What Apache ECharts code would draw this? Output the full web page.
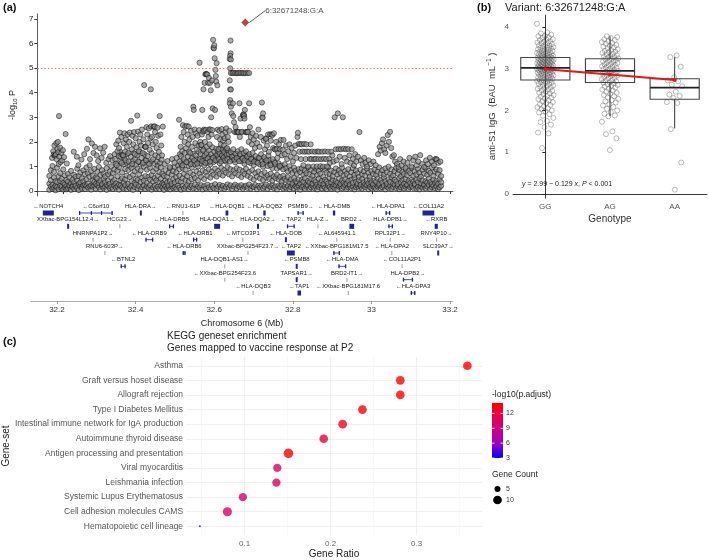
<!DOCTYPE html>
<html>
<head>
<meta charset="utf-8">
<script src="https://cdn.jsdelivr.net/npm/echarts@6/dist/echarts.min.js"></script>
<style>
html, body { margin: 0; padding: 0; background: #fff; }
#main { width: 709px; height: 560px; }
</style>
</head>
<body>
<div id="main"></div>
<script>
// ---- panel (a): regional association, positions in kb above 32 Mb ----
// floor of the plot: [kb, -log10P, -log10P, -log10P]
var snpFloor = [
 [165,.05,.30,.62],[169,.18,.44,.85],[173,.09,.25,1.02],[177,.14,.55,.78],[181,.03,.21,.40],[185,.16,.36,.95],
 [189,.08,.60,1.10],[193,.22,.41,.73],[197,.11,.19,.50],[201,.06,.33,.88],[205,.15,.27,.64],[209,.20,.45,.07],
 [213,.12,.38,.70],[217,.18,.24,.55],[221,.05,.31,.82],[225,.21,.17,.46],[229,.09,.36,.66],[233,.19,.22,.58],
 [237,.13,.43,.91],[241,.04,.29,.61],[245,.20,.35,.76],[249,.17,.52,.10],[253,.23,.40,.84],[257,.08,.26,.69],
 [261,.21,.47,.96],[265,.14,.31,.72],[269,.19,.58,1.05],[273,.06,.22,.81],[277,.18,.44,.63],[281,.22,.37,.90],
 [285,.10,.29,.55],[289,.24,.51,.78],[293,.16,.33,.98],[297,.07,.41,.66],[301,.20,.28,.85],[305,.13,.49,.71],
 [309,.18,.36,.60],[313,.05,.25,.93],[317,.21,.42,.68],[321,.12,.30,.79],[325,.17,.55,1.01],[329,.09,.38,.74],
 [333,.23,.46,.88],[337,.14,.31,1.12],[341,.19,.60,.83],[345,.06,.27,.97],[349,.22,.44,1.20],[353,.15,.52,.76],
 [357,.10,.35,1.08],[361,.24,.48,.90],[365,.08,.63,1.15],[369,.18,.29,.86],[373,.12,.57,1.03],[377,.21,.40,.94],
 [381,.05,.66,1.22],[385,.17,.33,.81],[389,.26,.50,1.06],[393,.11,.45,.92],[397,.20,.69,1.18],[401,.07,.37,.84],
 [405,.16,.54,1.09],[409,.23,.42,.99],[413,.09,.61,1.27],[417,.19,.34,.87],[421,.13,.58,1.14],[425,.24,.47,.95],
 [429,.06,.65,1.21],[433,.15,.39,.80],[437,.21,.53,1.11],[441,.10,.44,.91],[445,.18,.62,1.03],[449,.08,.36,.77],
 [453,.22,.50,.97],[457,.14,.31,.71],[461,.05,.27,.62],[465,.19,.43,.85],[469,.11,.34,.58],[473,.16,.22,.74],
 [477,.07,.40,.93],[481,.20,.29,.67],[485,.12,.48,.81],[489,.17,.35,.99],[493,.09,.56,.76],[497,.23,.41,1.04],
 [501,.14,.63,.89],[505,.06,.38,1.12],[509,.21,.52,.95],[513,.10,.70,1.20],[517,.18,.45,.87],[521,.25,.61,1.16],
 [525,.08,.39,1.02],[529,.16,.74,1.25],[533,.22,.48,.96],[537,.12,.66,1.19],[541,.27,.53,1.08],[545,.09,.80,1.31],
 [549,.19,.44,1.00],[553,.14,.71,1.22],[557,.24,.58,1.12],[561,.07,.83,1.36],[565,.20,.49,1.05],[569,.11,.77,1.28],
 [573,.26,.62,1.15],[577,.15,.88,1.40],[581,.08,.55,1.09],[585,.22,.79,1.33],[589,.13,.67,1.18],[593,.28,.91,1.45],
 [597,.10,.59,1.24],[601,.18,.82,1.38],[605,.25,.70,1.13],[609,.12,.94,1.50],[613,.21,.63,1.29],[617,.09,.86,1.42],
 [621,.17,.75,1.20],[625,.27,.97,1.55],[629,.14,.68,1.34],[633,.23,.89,1.47],[637,.08,.60,1.26],[641,.19,.84,1.39],
 [645,.26,.72,1.17],[649,.11,.93,1.52],[653,.20,.65,1.30],[657,.15,.87,1.44],[661,.24,.57,1.21],[665,.09,.81,1.36],
 [669,.18,.69,1.11],[673,.22,.90,1.48],[677,.13,.62,1.25],[681,.27,.78,1.40],[685,.10,.54,1.14],[689,.19,.85,1.32],
 [693,.16,.47,1.06],[697,.25,.73,1.27],[701,.08,.58,1.19],[705,.21,.80,1.35],[709,.14,.51,1.08],[713,.23,.69,1.23],
 [717,.11,.45,.99],[721,.18,.76,1.31],[725,.26,.55,1.16],[729,.09,.64,1.02],[733,.20,.49,1.26],[737,.15,.71,1.10],
 [741,.24,.42,.94],[745,.12,.60,1.20],[749,.19,.53,1.07],[753,.07,.66,.91],[757,.22,.47,1.13],[761,.16,.58,.97],
 [765,.25,.39,1.04],[769,.10,.62,.88],[773,.18,.50,1.09],[777,.13,.43,.93],[781,.21,.57,.80],[785,.08,.36,1.01],
 [789,.17,.48,.86],[793,.24,.31,.74],[797,.11,.53,.95],[801,.19,.40,.83],[805,.14,.34,.70],[809,.22,.47,.89],
 [813,.06,.29,.77],[817,.16,.45,.92],[821,.20,.38,.66],[825,.10,.52,.84],[829,.18,.27,.73],[833,.23,.41,.96],
 [837,.09,.35,.68],[841,.15,.49,.87],[845,.21,.30,.62],[849,.12,.44,.79],[853,.19,.37,.91],[857,.07,.26,.65],
 [861,.17,.50,.82],[865,.24,.33,.71],[869,.11,.42,.94],[873,.20,.28,.58],[877,.14,.46,.86],[881,.08,.39,.75],
 [885,.22,.31,.97],[889,.16,.54,.69],[893,.10,.36,.83],[897,.19,.45,.61],[901,.13,.27,.78],[905,.23,.40,.92],
 [909,.06,.33,.67],[913,.18,.51,.85],[917,.21,.29,.73],[921,.11,.43,.95],[925,.17,.35,.64],[929,.24,.48,.81],
 [933,.09,.31,.70],[937,.15,.41,.89],[941,.20,.26,.60],[945,.12,.46,.77],[949,.19,.34,.93],[953,.07,.53,.66],
 [957,.16,.38,.84],[961,.22,.30,.72],[965,.13,.44,.58],[969,.18,.25,.87],[973,.10,.49,.68],[977,.21,.36,.80],
 [981,.15,.28,.63],[985,.24,.42,.91],[989,.08,.32,.74],[993,.17,.47,.59],[997,.12,.35,.82],[1001,.20,.27,.69],
 [1005,.14,.43,.88],[1009,.09,.38,.65],[1013,.19,.51,.79],[1017,.23,.30,.96],[1021,.11,.45,.72],[1025,.16,.34,.85],
 [1029,.21,.55,.67],[1033,.07,.40,.92],[1037,.18,.29,.76],[1041,.13,.48,.99],[1045,.22,.37,.70],[1049,.10,.56,.88],
 [1053,.17,.31,.63],[1057,.25,.46,.81],[1061,.12,.39,.94],[1065,.19,.28,.71],[1069,.08,.52,.86],[1073,.15,.35,.60],
 [1077,.21,.44,.78],[1081,.11,.30,.69],[1085,.18,.49,.91],[1089,.23,.26,.64],[1093,.09,.41,.83],[1097,.16,.33,.73],
 [1101,.20,.47,.95],[1105,.13,.38,.62],[1109,.24,.29,.80],[1113,.10,.45,.68],[1117,.17,.36,.90],[1121,.07,.52,.75],
 [1125,.19,.31,.59],[1129,.14,.43,.86],[1133,.22,.27,.71],[1137,.11,.40,.94],[1141,.18,.34,.66],[1145,.25,.50,.82],
 [1149,.09,.37,.74],[1153,.16,.28,.97],[1157,.21,.46,.63],[1161,.12,.33,.79],[1165,.19,.42,.88],[1169,.08,.30,.70],
 [1173,.15,.48,.85],[1177,.22,.36,.61]
];
// everything above the floor: [kb, -log10P]
var snpUpper = [
 [172,1.35],[175,1.62],[176,1.48],[178,1.85],[179,1.45],[180,1.44],[181,1.46],[182,1.5],[183,1.95],[184,1.3],
 [186,1.72],[187,2.0],[188,1.58],[190,3.05],[191,1.4],[193,1.76],[194,1.18],[196,1.55],[198,1.25],[200,1.66],
 [203,1.38],[207,2.32],[210,1.12],
 [228,1.6],[236,1.4],[240,1.05],[248,1.28],[255,1.5],[262,1.72],[266,2.1],[270,1.3],[275,1.94],[279,1.55],
 [283,1.8],[287,1.45],[291,1.22],[296,1.74],[300,1.35],[304,1.56],[308,1.8],[312,1.15],[318,1.3],[322,1.42],
 [328,1.25],[334,1.5],
 [335,1.3],[339,1.05],[344,1.42],[348,1.6],[352,1.15],[358,1.35],[362,1.25],[366,1.5],[370,1.2],[375,1.4],
 [379,1.1],[383,1.55],[387,1.3],[391,1.45],[395,1.2],[399,1.6],[403,1.35],[407,1.15],[411,1.5],[415,1.25],
 [419,1.42],[423,1.1],[429,1.55],[433,1.3],[439,1.45],[443,1.2],[447,1.38],[451,1.15],[455,1.28],
 [338,1.9],[341,1.62],[343,2.05],[345,1.75],[347,2.38],[349,1.4],[351,2.2],[353,1.48],[355,1.47],[356,1.46],
 [357,1.95],[359,2.35],[361,1.6],[363,2.1],[365,1.8],[367,2.3],[369,1.55],[371,2.0],[373,2.38],[376,2.86],
 [378,1.7],[380,2.25],[382,1.9],[384,2.4],[386,1.5],[388,2.15],[390,1.78],[392,3.07],[394,2.42],[396,1.62],
 [398,2.0],[400,2.3],[402,1.85],[404,2.5],[406,1.55],[408,2.1],[410,4.31],[412,1.8],[413,1.81],[414,1.79],
 [416,2.6],[418,2.3],[420,1.95],[422,2.55],[424,1.68],[426,2.14],[427,4.14],[428,2.63],[430,2.2],[432,1.9],
 [434,2.62],[436,2.61],[437,2.63],[438,2.4],[440,2.0],[442,1.75],[444,2.58],[446,2.25],[448,1.6],[450,3.05],
 [452,2.3],[454,1.85],[456,1.45],[458,2.62],
 [463,1.1],[470,1.22],[476,.98],[482,1.3],[488,1.15],[494,1.35],[500,2.9],[502,1.5],[504,1.8],[506,2.2],[508,1.62],
 [502,1.2],[505,1.42],[509,1.05],[512,1.3],[515,1.55],[519,1.18],[523,1.4],[526,1.6],[530,1.1],[534,1.35],
 [536,1.52],[539,1.25],[543,1.45],[547,1.12],[551,1.6],[554,1.3],[556,1.5],[560,1.22],[563,1.7],[566,1.45],
 [568,1.15],[571,1.55],[574,1.32],[577,1.65],[580,1.2],[583,1.5],[586,1.78],[588,1.35],[591,1.6],[594,1.25],
 [596,1.72],[599,1.48],[601,1.62],[603,1.3],[605,1.55],[607,1.75],[609,1.2],[611,1.45],[613,1.68],[615,1.35],
 [617,1.58],[619,1.25],[621,1.72],[623,1.48],[625,1.3],[627,1.65],[629,1.5],[631,1.2],[634,1.58],[637,1.4],
 [640,1.7],[643,1.28],[646,1.52],[649,1.35],[652,1.62],[655,1.22],[658,1.5],[661,1.7],[664,1.32],[667,1.55],
 [670,1.25],[673,1.62],[676,1.4],[679,1.18],[682,1.5],[686,1.3],[690,1.55],[694,1.2],[698,1.42],[703,1.15],
 [707,1.35],[712,1.5],[716,1.1],[720,1.38],[726,1.25],[731,1.45],[736,1.05],[742,1.3],[748,1.15],[754,1.35],[760,1.02],
 [510,2.68],[512,2.4],[514,2.0],[516,2.62],[518,1.75],[520,2.65],[522,2.3],[524,1.9],[525,2.62],[527,2.1],
 [529,1.55],[531,2.45],[533,1.8],[535,2.2],[537,3.43],[538,3.3],[540,2.5],[542,1.95],[544,2.35],[546,1.7],
 [548,2.25],[550,1.85],[552,2.48],[553,5.22],[555,2.0],[557,1.87],[558,1.88],[559,2.3],
 [560,3.3],[561,2.42],[562,1.65],[563,4.14],[564,2.5],[565,2.45],[566,4.4],[567,2.0],[568,4.75],[569,2.49],
 [570,4.76],[571,4.75],[572,1.8],[573,4.74],[574,2.4],[575,4.4],[576,2.2],[577,4.6],[578,2.51],[579,1.9],
 [580,4.4],[581,2.5],[582,4.1],[583,3.0],[584,2.3],[585,4.5],[586,2.48],[587,3.36],[588,6.15],[589,5.83],
 [590,5.8],[591,5.93],[592,5.4],[593,3.3],[594,4.93],[595,4.68],[596,4.45],[597,5.2],[598,2.2],[599,4.3],
 [600,2.5],[602,1.7],[604,2.45],[606,2.1],[608,1.9],[610,2.52],[612,2.3],[614,2.05],[616,1.85],[618,2.15],
 [620,2.4],[622,2.55],[624,1.75],[626,2.2],[628,2.0],[630,2.45],
 [633,6.12],[633,5.6],[632,5.5],[631,5.37],[634,5.35],[632,4.99],[631,4.5],[632,4.14],[634,4.13],[632,3.7],
 [631,3.57],[634,3.43],[636,3.16],[634,4.8],[638,4.8],[641,4.81],[645,4.8],[649,4.79],[652,4.8],[656,4.81],
 [660,4.8],[664,4.8],[668,4.79],[672,4.8],[677,4.8],[681,4.8],
 [639,3.57],[640,3.05],[642,2.8],[644,2.4],[646,2.6],[648,2.39],[650,2.41],[652,2.4],[654,2.4],[656,3.57],
 [657,2.2],[659,2.95],[661,2.4],[663,2.41],[665,3.1],[666,3.08],[667,3.12],[668,3.05],[669,2.95],[670,3.3],
 [672,2.4],[674,2.39],[676,2.41],[678,2.4],[680,2.0],[681,3.57],[683,2.6],[685,2.2],[688,1.9],[690,2.35],
 [693,2.1],[696,1.75],[699,2.25],[702,1.95],[705,2.5],[708,1.8],[711,2.2],[714,3.6],[715,3.0],[716,2.98],
 [717,3.16],[719,2.05],[722,1.7],
 [724,2.14],[725,2.12],[727,1.85],[730,2.3],[732,1.6],[735,2.31],[737,2.05],[739,2.3],[741,2.28],[743,1.75],
 [745,2.35],[747,1.7],[749,1.69],[751,2.0],[753,1.71],[756,1.55],[758,1.9],[761,1.7],[763,2.08],[766,1.45],
 [768,1.68],[770,2.08],[773,1.5],[776,1.85],[779,1.3],[782,1.62],[785,1.9],[788,1.4],[791,1.75],[794,1.2],[797,1.55],
 [800,1.85],[803,1.35],[806,2.2],[807,2.37],[809,1.92],[811,1.6],[813,1.91],[815,1.3],[817,1.9],[819,1.61],
 [821,1.05],[823,1.92],[825,1.6],[827,1.3],[829,1.9],[831,1.61],[834,1.0],[836,1.6],[838,1.31],[840,1.9],
 [842,1.3],[844,1.61],[847,1.0],[849,1.3],[851,1.6],[853,1.31],[856,1.0],[858,1.61],[860,1.3],[862,1.6],
 [865,1.01],[867,1.3],[870,1.6],[872,1.0],[874,1.31],[877,1.61],[880,1.3],[882,1.0],[885,1.6],[888,1.31],
 [890,1.15],[893,1.6],[896,1.45],[899,1.2],
 [902,3.0],[905,1.7],[907,1.25],[910,3.16],[912,1.71],[915,1.4],[918,1.7],[920,1.1],[923,3.0],[925,1.72],
 [928,1.35],[931,1.7],[934,1.2],[937,1.71],[940,1.45],[943,1.15],[946,1.7],[949,1.3],[952,1.05],[955,1.5],
 [958,1.2],[962,1.4],[966,2.4],[970,1.25],[974,1.1],[978,1.35],[982,1.15],[986,1.0],[990,1.25],[995,1.1],
 [1002,1.2],[1008,1.05],[1014,1.5],[1018,1.8],[1021,1.65],[1024,1.95],[1027,2.1],[1030,1.7],[1033,1.55],
 [1036,1.85],[1039,2.28],[1042,2.0],[1045,2.41],[1048,1.75],[1051,1.4],[1055,1.46],[1058,1.2],
 [1063,1.1],[1067,.98],[1071,1.3],[1075,1.05],[1080,1.2],[1085,.95],[1090,1.15],[1095,1.35],[1100,1.0],
 [1105,1.25],[1110,1.4],[1114,1.05],[1118,1.2],[1123,1.46],[1128,1.1],[1133,.98],[1138,1.25],[1143,1.1],
 [1148,1.35],[1153,1.2],[1158,1.05],[1162,1.3],[1164,1.3],[1166,1.28],[1170,1.15],[1175,1.2]
];
var leadSnp = [671, 6.85];
var leadName = '6:32671248:G:A';
var chrTicks = [32.2, 32.4, 32.6, 32.8, 33, 33.2];
var logpTicks = [0, 1, 2, 3, 4, 5, 6, 7];
var threshold = 5;

// genes: name, start Mb, end Mb, row, strand, kind (c coding block, i exon-intron, n small/non-coding)
var genes = [
 ['NOTCH4',32.164,32.192,1,'-','c'],['C6orf10',32.256,32.342,1,'-','i'],['HLA-DRA',32.411,32.416,1,'+','c'],
 ['RNU1-61P',32.520,32.521,1,'-','n'],['HLA-DQB1',32.629,32.636,1,'-','c'],['HLA-DQB2',32.725,32.731,1,'-','c'],
 ['PSMB9',32.812,32.828,1,'+','i'],['HLA-DMB',32.902,32.908,1,'-','c'],['HLA-DPA1',33.036,33.048,1,'-','i'],
 ['COL11A2',33.130,33.160,1,'-','c'],
 ['XXbac-BPG154L12.4',32.226,32.231,2,'+','c'],['HCG23',32.359,32.361,2,'+','n'],['HLA-DRB5',32.485,32.498,2,'-','i'],
 ['HLA-DQA1',32.600,32.615,2,'+','c'],['HLA-DQA2',32.709,32.714,2,'+','c'],['TAP2',32.785,32.805,2,'-','i'],
 ['HLA-Z',32.863,32.865,2,'+','n'],['BRD2',32.944,32.956,2,'+','c'],['HLA-DPB1',33.043,33.055,2,'+','i'],
 ['RXRB',33.161,33.169,2,'-','c'],
 ['HNRNPA1P2',32.291,32.293,3,'+','n'],['HLA-DRB9',32.425,32.445,3,'-','i'],['HLA-DRB1',32.546,32.557,3,'-','i'],
 ['MTCO3P1',32.672,32.674,3,'-','n'],['HLA-DOB',32.780,32.785,3,'-','c'],['AL645941.1',32.911,32.913,3,'-','n'],
 ['RPL32P1',33.047,33.049,3,'+','n'],['RNY4P10',33.165,33.167,3,'+','n'],
 ['RNU6-603P',32.321,32.323,4,'+','n'],['HLA-DRB6',32.520,32.527,4,'-','i'],['XXbac-BPG254F23.7',32.685,32.687,4,'+','n'],
 ['TAP2',32.785,32.805,4,'-','c'],['XXbac-BPG181M17.5',32.903,32.920,4,'-','i'],['HLA-DPA2',33.051,33.053,4,'-','n'],
 ['SLC39A7',33.168,33.172,4,'+','c'],
 ['BTNL2',32.362,32.375,5,'-','i'],['HLA-DQB1-AS1',32.626,32.628,5,'+','n'],['PSMB8',32.808,32.812,5,'-','c'],
 ['HLA-DMA',32.916,32.936,5,'-','i'],['COL11A2P1',33.077,33.079,5,'-','n'],
 ['XXbac-BPG254F23.6',32.626,32.628,6,'-','n'],['TAPSAR1',32.809,32.811,6,'+','c'],['BRD2-IT1',32.937,32.939,6,'+','n'],
 ['HLA-DPB2',33.080,33.106,6,'+','i'],
 ['HLA-DQB3',32.698,32.700,7,'-','n'],['TAP1',32.812,32.821,7,'-','c'],['XXbac-BPG181M17.6',32.940,32.942,7,'-','n'],
 ['HLA-DPA3',33.100,33.112,7,'-','i']
];

// ---- panel (b): anti-S1 IgG by genotype ----
var genotypes = ['GG', 'AG', 'AA'];
// min whisker, Q1, median, Q3, max whisker
var boxStats = [
 [1.97, 2.73, 3.02, 3.27, 3.87],
 [1.86, 2.67, 2.95, 3.24, 3.78],
 [1.57, 2.27, 2.55, 2.76, 3.28]
];
var ggValues = [4.08,3.87,3.85,3.82,3.79,3.78,3.75,3.74,3.71,3.70,3.69,3.66,3.65,3.63,3.62,3.61,3.59,3.58,3.56,3.55,
 3.54,3.52,3.51,3.50,3.49,3.47,3.47,3.46,3.44,3.43,3.42,3.41,3.40,3.39,3.38,3.37,3.36,3.35,3.35,3.34,
 3.33,3.32,3.31,3.30,3.30,3.29,3.28,3.27,3.27,3.26,3.26,3.25,3.24,3.23,3.23,3.22,3.21,3.21,3.20,3.19,
 3.19,3.18,3.17,3.17,3.16,3.15,3.15,3.14,3.13,3.13,3.12,3.11,3.11,3.10,3.09,3.09,3.08,3.07,3.07,3.06,
 3.05,3.05,3.04,3.04,3.03,3.02,3.02,3.01,3.01,3.00,2.99,2.99,2.98,2.97,2.97,2.96,2.95,2.95,2.94,2.93,
 2.92,2.92,2.91,2.90,2.89,2.88,2.88,2.87,2.86,2.85,2.84,2.83,2.82,2.81,2.80,2.79,2.78,2.77,2.76,2.75,
 2.74,2.73,2.72,2.71,2.70,2.68,2.67,2.66,2.64,2.63,2.61,2.60,2.58,2.57,2.55,2.53,2.52,2.50,2.48,2.47,
 2.45,2.43,2.41,2.39,2.37,2.35,2.33,2.31,2.29,2.27,2.24,2.22,2.20,2.18,2.15,2.13,2.10,2.08,2.05,2.03,
 2.00,1.98,1.95,1.91,1.87,1.82,1.75,1.72,1.66,1.60,1.47,1.45,1.10];
var agValues = [3.78,3.76,3.74,3.71,3.69,3.66,3.64,3.62,3.60,3.57,3.55,3.53,3.51,3.49,3.47,3.45,3.43,3.41,3.40,3.38,
 3.36,3.35,3.33,3.31,3.30,3.28,3.27,3.25,3.24,3.23,3.21,3.20,3.18,3.17,3.15,3.14,3.12,3.11,3.09,3.08,
 3.06,3.05,3.03,3.02,3.00,2.99,2.97,2.96,2.95,2.94,2.92,2.91,2.89,2.88,2.86,2.85,2.83,2.82,2.80,2.78,
 2.77,2.75,2.73,2.72,2.70,2.68,2.67,2.65,2.63,2.61,2.59,2.57,2.55,2.52,2.50,2.48,2.45,2.42,2.40,2.37,
 2.34,2.31,2.28,2.25,2.22,2.19,2.15,2.12,2.08,2.04,2.00,1.96,1.92,1.88,1.86,1.73,1.50,1.43,1.33,1.05];
var aaValues = [3.32,3.28,3.05,2.80,2.72,2.70,2.62,2.58,2.45,2.38,2.35,2.30,2.20,2.18,1.55,0.75,0.10];
var fitValues = [2.99, 2.86, 2.73];
var yTicksB = [0, 1, 2, 3, 4];

// ---- panel (c): KEGG enrichment ----
var genesets = ['Asthma', 'Graft versus hoset disease', 'Allograft rejection', 'Type I Diabetes Mellitus',
 'Intestinal immune network for IgA production', 'Autoimmune thyroid disease', 'Antigen processing and presentation',
 'Viral myocarditis', 'Leishmania infection', 'Systemic Lupus Erythematosus', 'Cell adhesion molecules CAMS',
 'Hematopoietic cell lineage'];
var geneRatio = [0.359, 0.281, 0.281, 0.237, 0.214, 0.192, 0.151, 0.138, 0.137, 0.098, 0.080, 0.048];
var geneCount = [10, 10, 10, 10, 10, 10, 12, 9, 9, 9, 11, 1];
var negLogPadj = [14.1, 13.9, 13.9, 13.7, 12.8, 11.8, 13.9, 10.6, 10.4, 9.6, 10.2, 3.0];
var ratioTicks = [0.1, 0.2, 0.3];
var ratioMinor = [0.05, 0.15, 0.25, 0.35];
var padjTicks = [3, 6, 9, 12];
var countTicks = [5, 10];

var FONT = '"Liberation Sans", Arial, sans-serif';
var gradStops = ['#0000ff', '#9a00c2', '#ca0088', '#e8004f', '#ff0000'];
var padjMin = 3, padjMax = 14.1;

function countSize(n) { return Math.sqrt(8 * n - 4); }
function kbToMb(kb) { return 32 + kb / 1000; }

var snpPoints = [];
snpFloor.forEach(function (r) {
  for (var k = 1; k < r.length; k++) snpPoints.push([kbToMb(r[0]), r[k]]);
});
snpUpper.forEach(function (r) { snpPoints.push([kbToMb(r[0]), r[1]]); });

// jitter spread is layout only (deterministic low-discrepancy offsets)
function jittered(vals, cat) {
  return vals.map(function (v, i) {
    var f = (i * 0.6180339887 + cat * 0.31) % 1;
    return [cat + (f - 0.5) * 0.26, v];
  });
}
var jitterPoints = jittered(ggValues, 0).concat(jittered(agValues, 1), jittered(aaValues, 2));

function drawGene(params, api) {
  var g = genes[params.dataIndex];
  var a = api.coord([g[1], g[3]]);
  var b = api.coord([g[2], g[3]]);
  var cx = (a[0] + b[0]) / 2, y = a[1];
  var label = g[4] === '-' ? '\u2190' + g[0] : g[0] + '\u2192';
  var kids = [{
    type: 'text',
    style: { text: label, x: cx, y: y - 6.5, align: 'center', verticalAlign: 'middle',
      fontSize: 5.9, fontFamily: FONT, fill: '#222' }
  }];
  var blue = '#23238f';
  if (g[5] === 'n') {
    kids.push({ type: 'rect', shape: { x: cx - 0.5, y: y - 2, width: 1, height: 4 }, style: { fill: '#9a9a9a' } });
  } else if (g[5] === 'i') {
    var w = Math.max(b[0] - a[0], 3);
    var x0 = cx - w / 2;
    kids.push({ type: 'rect', shape: { x: x0, y: y - 0.5, width: w, height: 1 }, style: { fill: '#4a4aa8' } });
    kids.push({ type: 'rect', shape: { x: x0, y: y - 2, width: 1.3, height: 4 }, style: { fill: blue } });
    kids.push({ type: 'rect', shape: { x: x0 + w - 1.3, y: y - 2, width: 1.3, height: 4 }, style: { fill: blue } });
    if (w > 12) {
      kids.push({ type: 'rect', shape: { x: x0 + w * 0.35, y: y - 2, width: 1.2, height: 4 }, style: { fill: blue } });
      kids.push({ type: 'rect', shape: { x: x0 + w * 0.65, y: y - 2, width: 1.2, height: 4 }, style: { fill: blue } });
    }
  } else {
    var w2 = Math.max(b[0] - a[0], 2);
    kids.push({ type: 'rect', shape: { x: cx - w2 / 2, y: y - 2.5, width: w2, height: 5 }, style: { fill: blue } });
  }
  return { type: 'group', children: kids };
}

function drawBox(params, api) {
  var x = api.value(0);
  var bw = api.size([1, 0])[0] * 0.76;
  var pMin = api.coord([x, api.value(1)]);
  var pQ1 = api.coord([x, api.value(2)]);
  var pMed = api.coord([x, api.value(3)]);
  var pQ3 = api.coord([x, api.value(4)]);
  var pMax = api.coord([x, api.value(5)]);
  var line = { stroke: '#333', lineWidth: 1, fill: null };
  return {
    type: 'group',
    children: [
      { type: 'line', shape: { x1: pMax[0], y1: pMax[1], x2: pQ3[0], y2: pQ3[1] }, style: line },
      { type: 'line', shape: { x1: pQ1[0], y1: pQ1[1], x2: pMin[0], y2: pMin[1] }, style: line },
      { type: 'rect', shape: { x: pQ3[0] - bw / 2, y: pQ3[1], width: bw, height: pQ1[1] - pQ3[1] },
        style: { stroke: '#444', lineWidth: 1.1, fill: 'rgba(255,255,255,0)' } },
      { type: 'line', shape: { x1: pMed[0] - bw / 2, y1: pMed[1], x2: pMed[0] + bw / 2, y2: pMed[1] },
        style: { stroke: '#222', lineWidth: 1.8 } }
    ]
  };
}

var chart = echarts.init(document.getElementById('main'), null, { renderer: 'canvas' });

var gradient = new echarts.graphic.LinearGradient(0, 1, 0, 0, gradStops.map(function (c, i) {
  return { offset: i / (gradStops.length - 1), color: c };
}));
var barTop = 403, barBottom = 458;
function padjY(v) { return barBottom - (v - padjMin) / (padjMax - padjMin) * (barBottom - barTop); }

var legendGraphics = [
  { type: 'text', left: 492, top: 390, style: { text: '-log10(p.adjust)', fontSize: 8.5, fontFamily: FONT, fill: '#222' } },
  { type: 'rect', shape: { x: 492, y: barTop, width: 11, height: barBottom - barTop }, style: { fill: gradient } }
];
padjTicks.forEach(function (t) {
  var yy = padjY(t);
  legendGraphics.push({ type: 'line', shape: { x1: 492, y1: yy, x2: 494.5, y2: yy }, style: { stroke: '#fff', lineWidth: 0.8 } });
  legendGraphics.push({ type: 'line', shape: { x1: 500.5, y1: yy, x2: 503, y2: yy }, style: { stroke: '#fff', lineWidth: 0.8 } });
  legendGraphics.push({ type: 'text', style: { text: String(t), x: 506, y: yy, verticalAlign: 'middle', fontSize: 7, fontFamily: FONT, fill: '#333' } });
});
legendGraphics.push({ type: 'text', left: 492, top: 470, style: { text: 'Gene Count', fontSize: 8.5, fontFamily: FONT, fill: '#222' } });
countTicks.forEach(function (n, i) {
  var yy = 489 + i * 11;
  legendGraphics.push({ type: 'circle', shape: { cx: 497.5, cy: yy, r: countSize(n) / 2 }, style: { fill: '#000' } });
  legendGraphics.push({ type: 'text', style: { text: String(n), x: 506, y: yy, verticalAlign: 'middle', fontSize: 7, fontFamily: FONT, fill: '#333' } });
});

var option = {
  animation: false,
  textStyle: { fontFamily: FONT },
  grid: [
    { left: 31, right: 256, top: 14, bottom: 364 },
    { left: 31, right: 256, top: 203, bottom: 259 },
    { left: 513, right: 2, top: 15, bottom: 362 },
    { left: 165, right: 227, top: 357, bottom: 20 }
  ],
  xAxis: [
    { type: 'value', gridIndex: 0, min: 32.134, max: 33.2076,
      axisLine: { lineStyle: { color: '#333', width: 0.8 } },
      axisTick: { length: 3, customValues: chrTicks, lineStyle: { color: '#333' } },
      axisLabel: { show: false }, splitLine: { show: false } },
    { type: 'value', gridIndex: 1, min: 32.134, max: 33.2076,
      axisLine: { lineStyle: { color: '#999', width: 0.8 } },
      axisTick: { length: 3, customValues: chrTicks, lineStyle: { color: '#999' } },
      axisLabel: { customValues: chrTicks, fontSize: 8, color: '#333', margin: 5 },
      splitLine: { show: false },
      name: 'Chromosome 6 (Mb)', nameLocation: 'middle', nameGap: 18,
      nameTextStyle: { fontSize: 9, color: '#222' } },
    { type: 'category', gridIndex: 2, data: genotypes,
      axisLine: { lineStyle: { color: '#222', width: 0.9 } },
      axisTick: { alignWithLabel: true, length: 3, lineStyle: { color: '#222' } },
      axisLabel: { fontSize: 8, color: '#555', margin: 5 },
      name: 'Genotype', nameLocation: 'middle', nameGap: 16,
      nameTextStyle: { fontSize: 10, color: '#333' } },
    { type: 'value', gridIndex: 2, min: -0.5, max: 2.5, show: false },
    { type: 'value', gridIndex: 3, min: 0.032, max: 0.376,
      axisLine: { show: false },
      axisTick: { show: false, customValues: ratioTicks },
      axisLabel: { customValues: ratioTicks, fontSize: 8, color: '#666', margin: 5 },
      splitLine: { show: true, customValues: ratioTicks, lineStyle: { color: '#ebebeb', width: 0.8 } },
      name: 'Gene Ratio', nameLocation: 'middle', nameGap: 13,
      nameTextStyle: { fontSize: 10, color: '#222' } },
    { type: 'value', gridIndex: 3, min: 0.032, max: 0.376,
      axisLine: { show: false }, axisLabel: { show: false },
      axisTick: { show: false, customValues: ratioMinor },
      splitLine: { show: true, customValues: ratioMinor, lineStyle: { color: '#f4f4f4', width: 0.6 } } }
  ],
  yAxis: [
    { type: 'value', gridIndex: 0, min: -0.2, max: 7.2,
      axisLine: { show: true, lineStyle: { color: '#333', width: 0.8 } },
      axisTick: { show: true, length: 3, customValues: logpTicks, lineStyle: { color: '#333' } },
      axisLabel: { customValues: logpTicks, fontSize: 8, color: '#222', margin: 4 },
      splitLine: { show: false },
      name: '-log{s|10} P', nameLocation: 'middle', nameGap: 16,
      nameTextStyle: { fontSize: 9, color: '#222', rich: { s: { fontSize: 6, padding: [5, 0, 0, 0] } } } },
    { type: 'value', gridIndex: 1, min: 0.25, max: 7.6, inverse: true, show: false },
    { type: 'value', gridIndex: 2, min: -0.1, max: 4.29,
      axisLine: { show: true, lineStyle: { color: '#222', width: 0.9 } },
      axisTick: { show: true, length: 3, customValues: yTicksB, lineStyle: { color: '#222' } },
      axisLabel: { customValues: yTicksB, fontSize: 8, color: '#555', margin: 4 },
      splitLine: { show: false },
      name: 'anti-S1 IgG  (BAU  mL{p|\u22121} )', nameLocation: 'middle', nameGap: 14,
      nameTextStyle: { fontSize: 9.5, color: '#333', rich: { p: { fontSize: 6.5, padding: [0, 0, 6, 0] } } } },
    { type: 'value', gridIndex: 3, min: 0.4, max: 12.6, inverse: true,
      axisLine: { show: false },
      axisTick: { show: false, customValues: [1,2,3,4,5,6,7,8,9,10,11,12] },
      axisLabel: { customValues: [1,2,3,4,5,6,7,8,9,10,11,12], fontSize: 8.5, color: '#555', margin: 3,
        formatter: function (v) { return genesets[Math.round(v) - 1] || ''; } },
      splitLine: { show: true, customValues: [1,2,3,4,5,6,7,8,9,10,11,12], lineStyle: { color: '#ebebeb', width: 0.8 } },
      name: 'Gene-set', nameLocation: 'middle', nameGap: 150,
      nameTextStyle: { fontSize: 10, color: '#222' } }
  ],
  visualMap: [{
    type: 'continuous', show: false, seriesIndex: 6, dimension: 3,
    min: padjMin, max: padjMax, inRange: { color: gradStops }
  }],
  series: [
    { type: 'scatter', xAxisIndex: 0, yAxisIndex: 0, data: snpPoints, symbolSize: 5.2,
      itemStyle: { color: 'rgba(135,135,135,0.85)', borderColor: '#000', borderWidth: 0.6 },
      silent: true,
      markLine: { silent: true, symbol: ['none', 'none'], label: { show: false },
        lineStyle: { color: '#e07a7a', type: [1.5, 2], width: 1 },
        data: [{ yAxis: threshold }] } },
    { type: 'scatter', xAxisIndex: 0, yAxisIndex: 0, data: [[kbToMb(leadSnp[0]), leadSnp[1]]],
      symbol: 'diamond', symbolSize: 8, itemStyle: { color: '#a61616' }, z: 5,
      label: { show: true, position: 'right', distance: 4, formatter: leadName, fontSize: 8, color: '#222' },
      labelLayout: { dx: 12, dy: -12 },
      labelLine: { show: true, lineStyle: { color: '#333', width: 0.8 } } },
    { type: 'custom', xAxisIndex: 1, yAxisIndex: 1, renderItem: drawGene, clip: false,
      data: genes.map(function (g) { return [g[1], g[2], g[3]]; }), encode: { x: [0, 1], y: 2 } },
    { type: 'scatter', xAxisIndex: 3, yAxisIndex: 2, data: jitterPoints, symbolSize: 5,
      itemStyle: { color: 'rgba(255,255,255,0)', borderColor: 'rgba(95,95,95,0.75)', borderWidth: 0.7 } },
    { type: 'custom', xAxisIndex: 2, yAxisIndex: 2, renderItem: drawBox, z: 3,
      data: boxStats.map(function (b, i) { return [i].concat(b); }), encode: { x: 0, y: [1, 2, 3, 4, 5] } },
    { type: 'line', xAxisIndex: 3, yAxisIndex: 2, z: 4,
      data: fitValues.map(function (v, i) { return [i, v]; }),
      lineStyle: { color: '#e8151b', width: 2 }, itemStyle: { color: '#e8151b' },
      symbol: 'circle', symbolSize: 4, showSymbol: true },
    { type: 'scatter', xAxisIndex: 4, yAxisIndex: 3,
      data: genesets.map(function (g, i) { return [geneRatio[i], i + 1, geneCount[i], negLogPadj[i]]; }),
      symbolSize: function (d) { return countSize(d[2]); } }
  ],
  graphic: [
    { type: 'text', left: 3, top: 2, style: { text: '(a)', fontSize: 11, fontWeight: 'bold', fontFamily: FONT, fill: '#111' } },
    { type: 'text', left: 477, top: 2, style: { text: '(b)', fontSize: 11, fontWeight: 'bold', fontFamily: FONT, fill: '#111' } },
    { type: 'text', left: 505, top: 2, style: { text: 'Variant: 6:32671248:G:A', fontSize: 11, fontFamily: FONT, fill: '#222' } },
    { type: 'text', left: 3, top: 336, style: { text: '(c)', fontSize: 11, fontWeight: 'bold', fontFamily: FONT, fill: '#111' } },
    { type: 'text', left: 167, top: 330, style: { text: 'KEGG geneset enrichment\nGenes mapped to vaccine response at P2',
      fontSize: 10, lineHeight: 12, fontFamily: FONT, fill: '#222' } },
    { type: 'text', left: 522, top: 181, style: { text: '{i|y} = 2.99 \u2212 0.129 {i|x}, {i|P} < 0.001',
      fontSize: 7, fontFamily: FONT, fill: '#222', rich: { i: { fontStyle: 'italic', fontSize: 7, fontFamily: FONT } } } }
  ].concat(legendGraphics)
};
chart.setOption(option);
</script>
</body>
</html>
